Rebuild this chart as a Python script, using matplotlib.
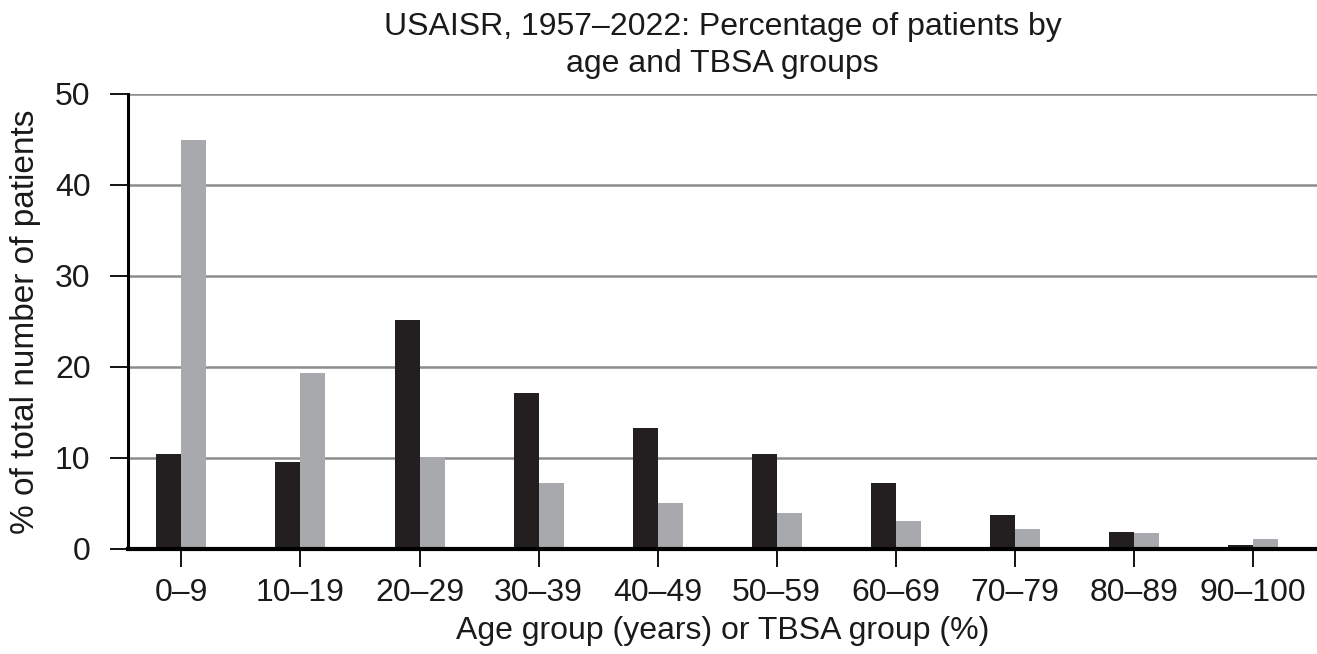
import matplotlib
matplotlib.use("Agg")
import matplotlib.pyplot as plt
import numpy as np

plt.rcParams['font.family'] = ['Liberation Sans', 'DejaVu Sans']

groups = ["0–9", "10–19", "20–29", "30–39", "40–49", "50–59", "60–69", "70–79", "80–89", "90–100"]
age_pct = [10.4, 9.6, 25.2, 17.1, 13.3, 10.4, 7.3, 3.7, 1.85, 0.4]
tbsa_pct = [44.9, 19.3, 10.0, 7.25, 5.0, 4.0, 3.05, 2.15, 1.7, 1.07]
yticks = [0, 10, 20, 30, 40, 50]

fig = plt.figure(figsize=(13.17, 6.54), dpi=100)
ax = fig.add_axes([0.0972, 0.1606, 0.9028, 0.6957])

x = np.arange(len(groups))
w = 0.21
ax.bar(x - w / 2, age_pct, width=w, color="#231f20", zorder=3)
ax.bar(x + w / 2, tbsa_pct, width=w, color="#a7a9ac", zorder=3)

ax.set_xlim(-0.449, 9.54)
ax.set_ylim(0, 50)
ax.set_yticks(yticks)
ax.set_xticks(x)
ax.set_xticklabels(groups)
ax.yaxis.grid(True, color="#8c8c8c", linewidth=1.8, zorder=0)
ax.set_axisbelow(True)

for s in ["top", "right"]:
    ax.spines[s].set_visible(False)
ax.spines["left"].set_linewidth(2.2)
ax.spines["bottom"].set_linewidth(3)
ax.spines["left"].set_zorder(4)
ax.spines["bottom"].set_zorder(4)

ax.tick_params(axis="both", length=13, width=1.3, color="black", labelsize=23, labelcolor="#1a1a1a")
ax.tick_params(axis="y", pad=14)
ax.tick_params(axis="x", pad=8)

ax.set_xlabel("Age group (years) or TBSA group (%)", fontsize=23, color="#1a1a1a", labelpad=6)
ax.set_ylabel("% of total number of patients", fontsize=24, color="#1a1a1a", labelpad=10)
ax.set_title("USAISR, 1957–2022: Percentage of patients by\nage and TBSA groups",
             fontsize=23, color="#1a1a1a", pad=16, linespacing=1.3)

fig.savefig("out.png", dpi=100)
